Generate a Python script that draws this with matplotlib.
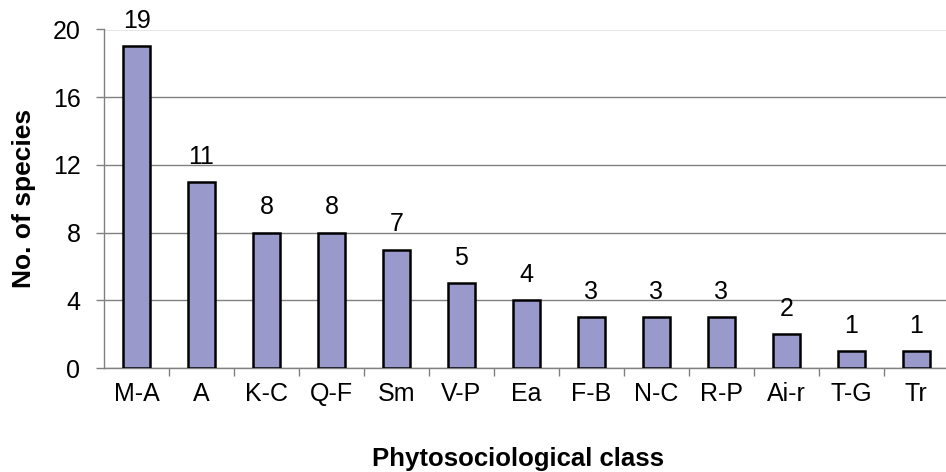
import matplotlib
matplotlib.use("Agg")
import matplotlib.pyplot as plt
import numpy as np

categories = ["M-A", "A", "K-C", "Q-F", "Sm", "V-P", "Ea", "F-B", "N-C", "R-P", "Ai-r", "T-G", "Tr"]
values = [19, 11, 8, 8, 7, 5, 4, 3, 3, 3, 2, 1, 1]
yticks = [0, 4, 8, 12, 16, 20]

plt.rcParams['font.family'] = ['Liberation Sans', 'DejaVu Sans']

fig = plt.figure(figsize=(9.46, 4.72), dpi=100)
ax = fig.add_axes([0.110, 0.2203, 0.893, 0.7172])

x = np.arange(len(categories))
ax.bar(x, values, width=0.42, color="#9999cc", edgecolor="black", linewidth=1.8, zorder=3)
for xi, v in zip(x, values):
    ax.annotate(str(v), (xi, v), xytext=(0, 9.5), textcoords="offset points",
                ha="center", va="bottom", fontsize=18)

ax.set_xlim(-0.5, len(categories) - 0.5)
ax.set_ylim(0, 20)
ax.set_yticks(yticks)
ax.set_yticklabels([str(t) for t in yticks], fontsize=18)
ax.set_xticks(x)
ax.set_xticklabels(categories, fontsize=18)
ax.set_xticks(np.arange(len(categories)) + 0.5, minor=True)
ax.tick_params(axis="x", which="major", length=0, pad=10)
ax.tick_params(axis="x", which="minor", length=6, width=1, color="#808080")
ax.tick_params(axis="y", length=6, width=1, color="#808080", pad=11)
ax.yaxis.grid(True, color="#808080", linewidth=1, zorder=0)
for s in ["top", "right"]:
    ax.spines[s].set_visible(False)
ax.spines["left"].set_color("#808080")
ax.spines["bottom"].set_color("#808080")
ax.spines["left"].set_linewidth(1)
ax.spines["bottom"].set_linewidth(1)

ax.set_ylabel("No. of species", fontsize=19, fontweight="bold", labelpad=12)
fig.text(0.548, 0.012, "Phytosociological class", fontsize=18.5, fontweight="bold", ha="center", va="baseline")

fig.savefig("out.png", dpi=100)
